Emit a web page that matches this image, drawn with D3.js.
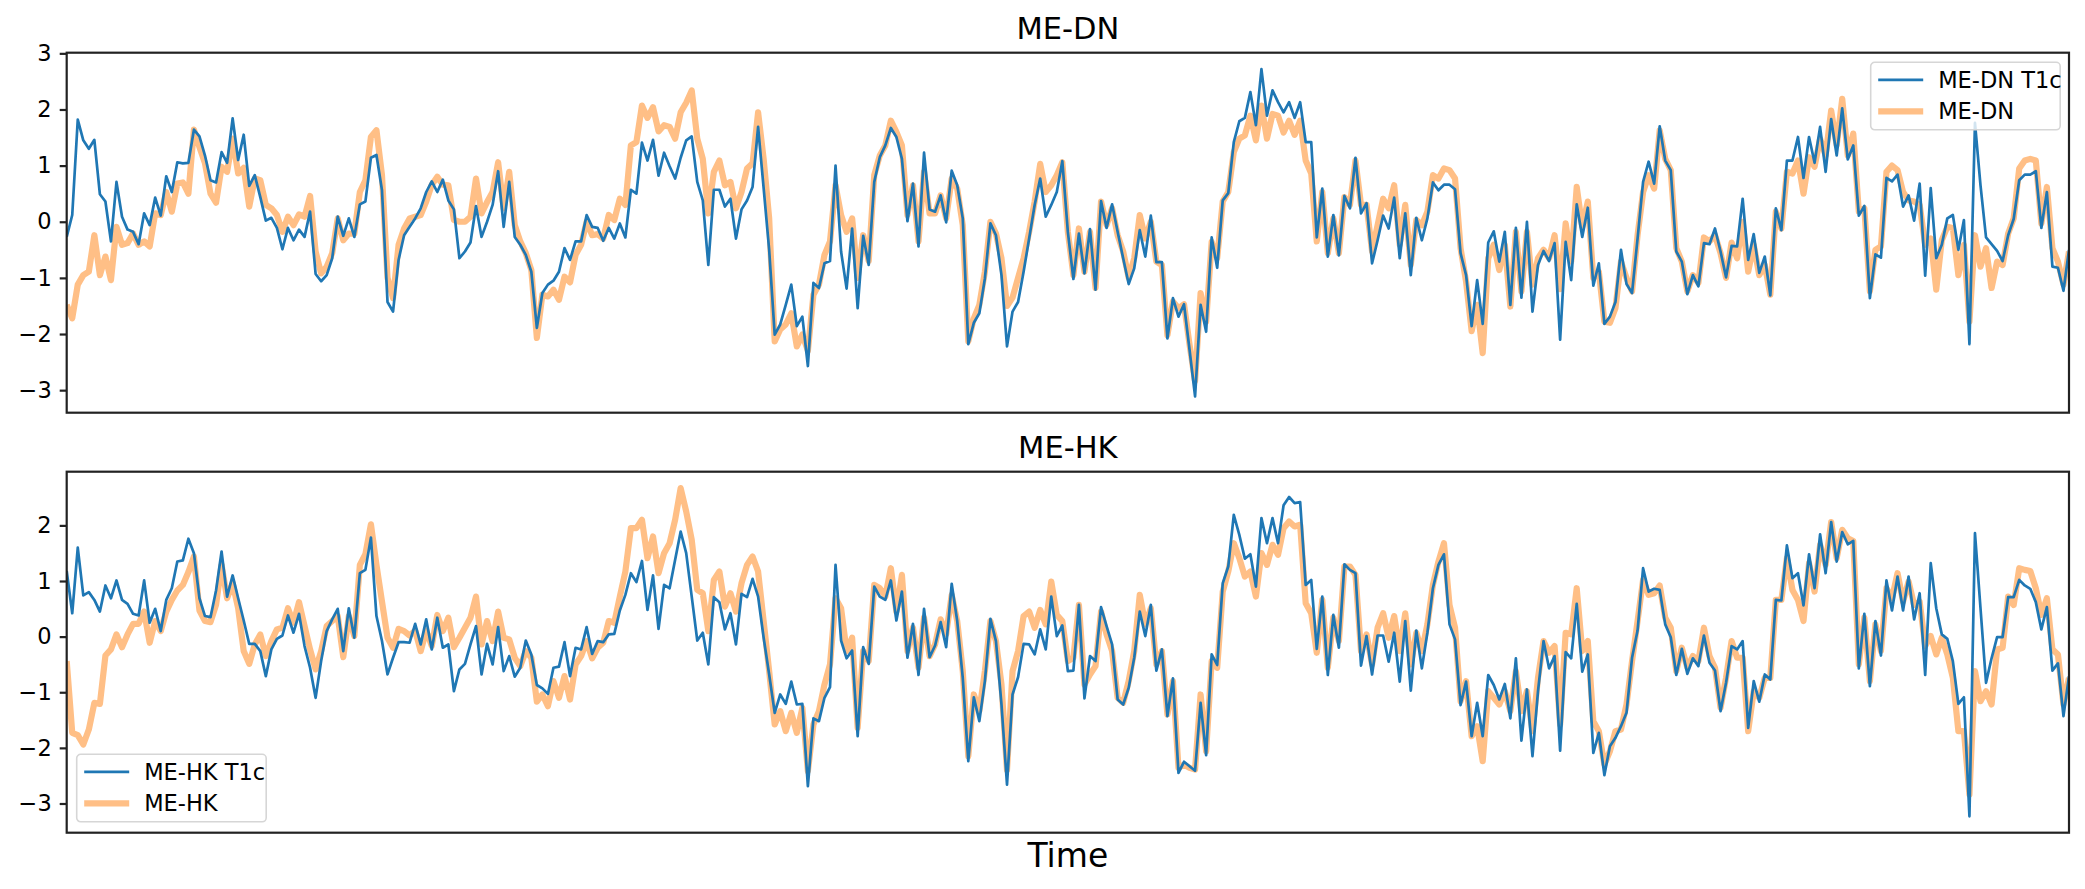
<!DOCTYPE html>
<html>
<head>
<meta charset="utf-8">
<script src="https://cdn.jsdelivr.net/npm/d3@7"></script>
<style>
  body { margin: 0; background: #fff; }
  text { font-family: "DejaVu Sans", sans-serif; }
</style>
</head>
<body>
<svg id="chart" width="2085" height="889"></svg>
<script>
// Series, un valor por paso de tiempo

var dnT1c = [
  -0.27, 0.12, 1.82, 1.45, 1.3, 1.46, 0.49, 0.36, -0.35, 0.71, 0.09, -0.14, -0.18, -0.4, 0.15, -0.06, 0.43, 0.11, 0.81, 0.53,
  1.06, 1.04, 1.05, 1.64, 1.52, 1.18, 0.74, 0.70, 1.24, 1.05, 1.84, 1.1, 1.55, 0.64, 0.83, 0.44, 0.02, 0.07, -0.11, -0.49,
  -0.11, -0.33, -0.14, -0.27, 0.18, -0.93, -1.06, -0.95, -0.65, 0.09, -0.25, 0.06, -0.27, 0.31, 0.36, 1.14, 1.19, 0.56, -1.43, -1.6,
  -0.68, -0.24, -0.09, 0.06, 0.24, 0.53, 0.72, 0.53, 0.75, 0.38, 0.22, -0.65, -0.53,
  -0.37, 0.28, -0.27, 0.0, 0.3, 0.9, -0.09, 0.71, -0.27, -0.41, -0.59, -0.89, -1.89, -1.27, -1.12, -1.05, -0.89, -0.47, -0.68,
  -0.35, -0.35, 0.12, -0.09, -0.11, -0.34, -0.11, -0.3, -0.03, -0.28, 0.57, 0.5, 1.41, 1.09, 1.46, 0.82, 1.23, 0.99, 0.77, 1.14,
  1.45, 1.52, 0.71, 0.38, -0.77, 0.57, 0.57, 0.27, 0.41, -0.3, 0.22, 0.38, 0.62, 1.69, 0.6, -0.5, -2.01, -1.83, -1.48, -1.12,
  -1.86, -1.69, -2.57, -1.09, -1.18, -0.74, -0.7, 1.0, -0.53, -1.19, -0.12, -1.54, -0.25,
  -0.77, 0.71, 1.15, 1.36, 1.67, 1.51, 1.12, 0.01, 0.68, -0.44, 1.23, 0.22, 0.18, 0.47, -0.01, 0.91, 0.65, 0.06, -2.18, -1.8,
  -1.63, -1.01, -0.03, -0.24, -0.95, -2.22, -1.6, -1.43, -0.89, -0.3, 0.3, 0.77, 0.09, 0.3, 0.53, 1.08, -0.18, -1.02, -0.21, -0.92,
  -0.13, -1.21, 0.37, -0.11, 0.31, -0.18, -0.65, -1.11, -0.83, -0.15, -0.62, 0.11, -0.72, -0.72, -2.08, -1.36, -1.69, -1.47, -2.28, -3.11,
  -1.48, -1.96, -0.28, -0.82, 0.38, 0.51, 1.42, 1.79, 1.85, 2.31, 1.72,
  2.72, 1.89, 2.34, 2.13, 1.95, 2.13, 1.85, 2.13, 1.42, 1.42, -0.28, 0.59, -0.62, 0.12, -0.6, 0.46, 0.24, 1.14, 0.15, 0.33,
  -0.74, -0.33, 0.11, -0.12, 0.43, -0.65, 0.15, -0.95, 0.07, -0.33, 0.06, 0.7, 0.56, 0.66, 0.66, 0.58, -0.56, -0.95, -1.86, -1.04,
  -1.82, -0.37, -0.17, -0.71, -0.18, -1.48, -0.11, -1.35, 0.0, -1.6, -0.77, -0.52, -0.7, -0.38, -2.1, -0.36, -1.04, 0.31, -0.27, 0.25,
  -1.14, -0.74, -1.82, -1.69, -1.43, -0.5, -1.11, -1.27, -0.3, 0.71, 1.07, 0.68, 1.7,
  1.09, 0.92, -0.53, -0.71, -1.29, -0.95, -1.15, -0.38, -0.4, -0.12, -0.53, -0.99, -0.43, -0.44, 0.41, -0.68, -0.22, -0.91, -0.62, -1.31,
  0.24, -0.15, 1.09, 1.09, 1.51, 0.78, 1.51, 1.05, 1.69, 0.89, 1.83, 1.18, 2.02, 1.11, 1.36, 0.11, 0.28, -1.36, -0.58, -0.64,
  0.78, 0.72, 0.84, 0.27, 0.47, 0.02, 0.68, -0.96, 0.6, -0.65, -0.41, 0.06, 0.12, -0.5, 0.03, -2.18, 1.76, 0.65, -0.28, -0.4,
  -0.52, -0.7, -0.24, 0.05, 0.74, 0.84, 0.84, 0.9, -0.11, 0.53, -0.8, -0.82, -1.23, -0.5
]

var dn = [
  -1.48, -1.72, -1.12, -0.95, -0.89, -0.24, -0.95, -0.62, -1.04, -0.09, -0.41, -0.38, -0.21, -0.41, -0.35, -0.44, 0.15, 0.12, 0.53, 0.18,
  0.68, 0.7, 0.5, 1.64, 1.33, 1.04, 0.5, 0.34, 0.98, 0.89, 1.48, 0.86, 0.96, 0.27, 0.77, 0.74, 0.3, 0.24, 0.12, -0.18,
  0.09, -0.06, 0.13, 0.09, 0.46, -0.53, -0.92, -0.8, -0.56, 0.06, -0.33, -0.21, -0.21, 0.53, 0.74, 1.51, 1.63, 0.83, -1.0, -1.36,
  -0.41, -0.12, 0.06, 0.09, 0.12, 0.36, 0.66, 0.8, 0.66, 0.65, 0.03, 0.0, 0.0,
  0.09, 0.77, 0.15, 0.35, 0.53, 1.06, 0.24, 0.89, -0.06, -0.35, -0.56, -0.86, -2.07, -1.3, -1.33, -1.21, -1.39, -0.98, -1.08,
  -0.59, -0.41, 0.0, -0.24, -0.22, -0.3, 0.12, 0.03, 0.41, 0.3, 1.36, 1.42, 2.07, 1.85, 2.04, 1.61, 1.72, 1.69, 1.48, 1.95,
  2.12, 2.34, 1.48, 1.12, 0.15, 0.89, 1.09, 0.65, 0.71, 0.24, 0.53, 0.95, 1.04, 1.95, 1.12, 0.06, -2.13, -1.92, -1.83, -1.63,
  -2.22, -2.01, -2.3, -1.3, -1.12, -0.59, -0.35, 0.65, 0.12, -0.18, 0.06, -1.0, -0.24,
  -0.7, 0.83, 1.18, 1.36, 1.8, 1.6, 1.36, 0.12, 0.65, -0.35, 0.89, 0.15, 0.15, 0.47, 0.06, 0.77, 0.59, -0.06, -2.13, -1.72,
  -1.48, -0.89, 0.0, -0.21, -0.65, -1.5, -1.35, -1.0, -0.65, -0.18, 0.36, 1.03, 0.53, 0.65, 0.83, 1.06, -0.18, -0.95, -0.12, -0.89,
  -0.18, -1.18, 0.36, -0.06, 0.24, -0.24, -0.53, -1.0, -0.65, 0.12, -0.3, 0.0, -0.71, -0.77, -2.02, -1.42, -1.54, -1.47, -2.19, -2.84,
  -1.27, -1.78, -0.36, -0.65, 0.36, 0.53, 1.24, 1.48, 1.54, 1.89, 1.45,
  2.07, 1.48, 1.92, 1.89, 1.59, 1.8, 1.55, 1.8, 1.09, 0.86, -0.35, 0.53, -0.56, 0.06, -0.56, 0.44, 0.3, 1.09, 0.3, 0.3,
  -0.53, -0.06, 0.41, 0.24, 0.65, -0.41, 0.3, -0.77, 0.03, -0.06, 0.18, 0.83, 0.77, 0.95, 0.92, 0.77, -0.47, -1.07, -1.95, -1.48,
  -2.34, -0.65, -0.41, -0.86, -0.41, -1.51, -0.18, -1.24, -0.18, -1.12, -0.65, -0.5, -0.65, -0.24, -1.2, -0.03, -0.71, 0.62, -0.09, 0.36,
  -1.0, -0.89, -1.78, -1.8, -1.54, -0.71, -1.0, -1.24, -0.24, 0.53, 0.83, 0.59, 1.63,
  1.12, 0.92, -0.47, -0.71, -1.24, -0.95, -1.09, -0.28, -0.35, -0.24, -0.56, -1.0, -0.37, -0.65, 0.0, -0.89, -0.41, -0.95, -0.77, -1.3,
  0.18, -0.12, 0.89, 0.86, 1.09, 0.5, 1.15, 0.98, 1.48, 1.18, 1.98, 1.36, 2.19, 1.18, 1.57, 0.18, 0.24, -1.24, -0.5, -0.44,
  0.89, 1.0, 0.92, 0.53, 0.38, 0.36, 0.3, -0.41, -0.3, -1.21, -0.33, -0.09, -0.11, -0.95, -0.41, -1.78, -0.24, -0.8, -0.47, -1.18,
  -0.71, -0.77, -0.21, 0.06, 0.95, 1.09, 1.12, 1.09, -0.03, 0.62, -0.47, -0.71, -1.12, -0.53
]

var hkT1c = [
  1.18, 0.42, 1.6, 0.74, 0.8, 0.66, 0.45, 0.92, 0.69, 1.01, 0.66, 0.59, 0.41, 0.38, 1.01, 0.25, 0.5, 0.1, 0.66, 0.87,
  1.35, 1.37, 1.76, 1.5, 0.69, 0.37, 0.35, 0.83, 1.53, 0.72, 1.1, 0.69, 0.29, -0.13, -0.13, -0.26, -0.71, -0.23, -0.04, 0.02,
  0.38, 0.07, 0.41, -0.17, -0.56, -1.1, -0.44, 0.1, 0.31, 0.5, -0.26, 0.51, -0.02, 1.14, 1.2, 1.78, 0.37, -0.08, -0.68, -0.38,
  -0.1, -0.1, -0.11, 0.23, -0.14, 0.31, -0.23, 0.34, -0.2, -0.14, -0.98, -0.59, -0.49,
  -0.14, 0.19, -0.68, -0.13, -0.5, 0.17, -0.62, -0.35, -0.72, -0.56, -0.07, -0.32, -0.87, -0.93, -1.03, -0.56, -0.54, -0.1, -0.71,
  -0.2, -0.23, 0.17, -0.31, -0.08, -0.1, 0.04, 0.05, 0.47, 0.75, 1.14, 0.98, 1.36, 0.48, 1.1, 0.14, 0.93, 0.87, 1.38, 1.89,
  1.5, 0.72, -0.07, 0.07, -0.5, 0.71, 0.62, 0.13, 0.42, -0.14, 0.77, 0.71, 1.04, 0.72, -0.02, -0.68, -1.37, -1.04, -1.21, -0.81,
  -1.22, -1.21, -2.69, -1.47, -1.52, -1.1, -0.91, 1.29, -0.07, -0.39, -0.25, -1.79, -0.19,
  -0.49, 0.9, 0.72, 0.66, 1.01, 0.29, 0.81, -0.38, 0.23, -0.69, 0.5, -0.37, -0.16, 0.26, -0.19, 0.95, 0.28, -0.74, -2.24, -1.09,
  -1.52, -0.8, 0.32, -0.08, -1.22, -2.66, -1.04, -0.73, -0.13, -0.14, -0.32, 0.13, -0.23, 0.72, 0.01, 0.2, -0.62, -0.61, 0.57, -1.11,
  -0.35, -0.44, 0.53, 0.19, -0.14, -1.13, -1.22, -0.92, -0.38, 0.45, 0.01, 0.57, -0.61, -0.23, -1.43, -0.75, -2.45, -2.25, -2.33, -2.41,
  -1.19, -2.13, -0.32, -0.51, 0.96, 1.26, 2.19, 1.83, 1.4, 1.48, 0.9,
  2.13, 1.68, 2.13, 1.68, 2.36, 2.51, 2.4, 2.42, 0.93, 1.02, -0.22, 0.72, -0.69, 0.39, -0.2, 1.3, 1.2, 1.14, -0.52, 0.01,
  -0.68, 0.02, 0.02, -0.45, 0.07, -0.81, 0.28, -0.97, 0.11, -0.57, 0.07, 0.87, 1.29, 1.48, 0.22, -0.05, -1.23, -0.81, -1.79, -1.19,
  -1.79, -0.69, -0.87, -1.13, -0.85, -1.47, -0.39, -1.87, -0.95, -2.15, -0.98, -0.08, -0.57, -0.35, -2.05, -0.28, -0.39, 0.59, -0.63, -0.32,
  -2.09, -1.73, -2.49, -1.97, -1.82, -1.61, -1.37, -0.38, 0.11, 1.23, 0.81, 0.86, 0.84,
  0.22, -0.01, -0.69, -0.22, -0.67, -0.39, -0.53, 0.02, -0.47, -0.61, -1.34, -0.83, -0.17, -0.23, -0.08, -1.64, -0.8, -1.17, -0.68, -0.77,
  0.66, 0.65, 1.64, 1.05, 1.14, 0.56, 1.48, 0.87, 1.84, 1.14, 2.06, 1.35, 1.88, 1.66, 1.72, -0.57, 0.41, -0.89, 0.28, -0.34,
  1.01, 0.47, 1.08, 0.47, 1.08, 0.31, 0.78, -0.69, 1.32, 0.51, 0.04, -0.04, -0.44, -1.21, -1.09, -3.23, 1.86, 0.51, -0.83, -0.39,
  -0.01, -0.01, 0.71, 0.71, 1.02, 0.92, 0.86, 0.62, 0.13, 0.53, -0.61, -0.48, -1.43, -0.71
]

var hk = [
  -0.44, -1.73, -1.77, -1.94, -1.67, -1.19, -1.21, -0.34, -0.23, 0.04, -0.19, 0.04, 0.23, 0.23, 0.45, -0.11, 0.28, 0.1, 0.45, 0.66,
  0.83, 0.93, 1.16, 1.44, 0.47, 0.28, 0.26, 0.57, 1.29, 0.69, 0.96, 0.51, -0.26, -0.49, -0.14, 0.04, -0.35, -0.08, 0.13, 0.16,
  0.51, 0.25, 0.62, 0.19, -0.23, -0.59, -0.26, 0.19, 0.28, 0.37, -0.37, 0.37, 0.01, 1.29, 1.48, 2.02, 1.29, 0.63, -0.02, -0.2,
  0.14, 0.1, 0.02, 0.11, -0.26, 0.11, -0.17, 0.39, 0.1, 0.34, -0.19, -0.02, 0.16,
  0.34, 0.72, -0.14, 0.28, -0.08, 0.45, -0.02, -0.05, -0.38, -0.53, -0.26, -0.38, -1.17, -1.04, -1.25, -0.8, -1.1, -0.71, -1.13,
  -0.5, -0.35, -0.08, -0.39, -0.2, -0.11, 0.28, 0.25, 0.72, 1.17, 1.95, 1.95, 2.1, 1.41, 1.8, 1.14, 1.5, 1.68, 2.1, 2.67,
  2.25, 1.74, 0.84, 0.78, 0.1, 1.02, 1.17, 0.54, 0.78, 0.45, 0.96, 1.29, 1.44, 1.17, 0.28, -0.62, -1.58, -1.34, -1.7, -1.37,
  -1.73, -1.28, -2.42, -1.58, -1.34, -0.86, -0.5, 0.69, 0.51, -0.26, -0.02, -1.64, -0.26,
  -0.44, 0.93, 0.87, 0.72, 1.23, 0.45, 1.11, -0.26, 0.16, -0.56, 0.34, -0.35, -0.14, 0.31, 0.04, 0.75, 0.28, -0.62, -2.15, -1.04,
  -1.34, -0.62, 0.28, -0.08, -0.86, -2.4, -0.62, -0.26, 0.37, 0.45, 0.16, 0.48, 0.22, 0.99, 0.39, 0.28, -0.44, -0.38, 0.57, -0.86,
  -0.68, -0.53, 0.45, 0.04, -0.26, -1.1, -1.19, -0.8, -0.26, 0.75, 0.22, 0.51, -0.5, -0.26, -1.4, -0.8, -2.36, -2.3, -2.36, -2.39,
  -1.04, -2.06, -0.44, -0.56, 0.81, 1.17, 1.68, 1.41, 1.08, 1.17, 0.72,
  1.5, 1.29, 1.65, 1.47, 1.95, 2.07, 1.98, 2.01, 0.6, 0.42, -0.29, 0.66, -0.56, 0.34, -0.08, 1.26, 1.26, 1.11, -0.26, 0.04,
  -0.5, 0.16, 0.42, -0.02, 0.37, -0.26, 0.42, -0.5, 0.07, -0.26, 0.22, 0.93, 1.35, 1.68, 0.57, 0.16, -1.16, -0.8, -1.79, -1.61,
  -2.24, -0.98, -1.1, -1.22, -0.98, -1.34, -0.62, -1.34, -0.98, -1.7, -0.74, -0.08, -0.29, -0.17, -1.58, 0.07, 0.04, 0.87, -0.26, -0.08,
  -1.52, -1.7, -2.3, -2.06, -1.7, -1.67, -1.22, -0.44, 0.28, 1.02, 0.75, 0.78, 0.92,
  0.34, 0.16, -0.62, -0.2, -0.56, -0.35, -0.44, 0.16, -0.35, -0.56, -1.28, -0.74, -0.08, -0.38, -0.38, -1.7, -0.98, -1.1, -0.74, -0.74,
  0.66, 0.66, 1.41, 0.84, 0.66, 0.28, 1.32, 0.81, 1.65, 1.29, 2.06, 1.41, 1.92, 1.77, 1.72, -0.5, 0.34, -0.8, 0.22, -0.26,
  0.87, 0.69, 1.14, 0.63, 0.99, 0.57, 0.63, -0.17, 0.01, -0.32, -0.02, -0.32, -0.74, -1.7, -1.7, -2.84, -0.62, -1.16, -0.98, -1.22,
  -0.23, -0.2, 0.72, 0.57, 1.23, 1.2, 1.18, 0.87, 0.39, 0.69, -0.23, -0.32, -1.22, -0.74
]

var dnTicks = [-3, -2, -1, 0, 1, 2, 3]
var hkTicks = [-3, -2, -1, 0, 1, 2]

var azul = "#1f77b4"
var naranja = "#ffbf86"

var width = 2085
var height = 889
var margin = { left: 66.7, right: 16 }

var svg = d3.select("#chart")
svg.append("rect").attr("width", width).attr("height", height).attr("fill", "#fff")

var paneles = [
  { titulo: "ME-DN", t1c: dnT1c, real: dn, ticks: dnTicks, top: 52.7, bottom: 412.7, nombres: ["ME-DN T1c", "ME-DN"], leyenda: "derecha" },
  { titulo: "ME-HK", t1c: hkT1c, real: hk, ticks: hkTicks, top: 471.7, bottom: 832.7, nombres: ["ME-HK T1c", "ME-HK"], leyenda: "izquierda" }
]

var escalaX = d3.scaleLinear()
  .domain([0, dnT1c.length - 1])
  .range([margin.left, width - margin.right])

paneles.forEach(function (p, k) {
  // dominio Y como matplotlib: extremos de los datos + 5%
  var ext = d3.extent(p.t1c.concat(p.real))
  var pad = (ext[1] - ext[0]) * 0.05
  var escalaY = d3.scaleLinear()
    .domain([ext[0] - pad, ext[1] + pad])
    .range([p.bottom, p.top])

  var linea = d3.line()
    .x(function (d, i) { return escalaX(i) })
    .y(function (d) { return escalaY(d) })

  svg.append("clipPath").attr("id", "clip" + k)
    .append("rect")
    .attr("x", margin.left).attr("y", p.top)
    .attr("width", width - margin.right - margin.left)
    .attr("height", p.bottom - p.top)

  var g = svg.append("g").attr("clip-path", "url(#clip" + k + ")")

  g.append("path")
    .datum(p.real)
    .attr("d", linea)
    .attr("fill", "none")
    .attr("stroke", naranja)
    .attr("stroke-width", 6.2)
    .attr("stroke-linejoin", "round")

  g.append("path")
    .datum(p.t1c)
    .attr("d", linea)
    .attr("fill", "none")
    .attr("stroke", azul)
    .attr("stroke-width", 2.7)
    .attr("stroke-linejoin", "round")

  // eje Y
  var ejeY = d3.axisLeft(escalaY)
    .tickValues(p.ticks)
    .tickFormat(d3.format("d"))
    .tickSize(7)
    .tickPadding(8)

  var gy = svg.append("g")
    .attr("transform", "translate(" + margin.left + ",0)")
    .call(ejeY)
  gy.select(".domain").remove()
  gy.selectAll(".tick line").attr("stroke", "#222").attr("stroke-width", 2.2)
  gy.selectAll(".tick text")
    .attr("font-family", "DejaVu Sans")
    .attr("font-size", 22.5)
    .attr("fill", "#000")

  // marco
  svg.append("rect")
    .attr("x", margin.left).attr("y", p.top)
    .attr("width", width - margin.right - margin.left)
    .attr("height", p.bottom - p.top)
    .attr("fill", "none")
    .attr("stroke", "#222")
    .attr("stroke-width", 2.2)

  // titulo
  svg.append("text")
    .attr("x", (margin.left + width - margin.right) / 2)
    .attr("y", p.top - 14)
    .attr("text-anchor", "middle")
    .attr("font-size", 30.5)
    .attr("fill", "#000")
    .text(p.titulo)

  // leyenda
  var lx = p.leyenda === "derecha" ? 1870.7 : 76.7
  var ly = p.leyenda === "derecha" ? 62.3 : 754.3
  var ley = svg.append("g").attr("transform", "translate(" + lx + "," + ly + ")")
  ley.append("rect")
    .attr("width", 189.5).attr("height", 67.5)
    .attr("rx", 4)
    .attr("fill", "#fff").attr("fill-opacity", 0.8)
    .attr("stroke", "#d6d6d6").attr("stroke-width", 1.6)
  var colores = [azul, naranja]
  var grosor = [2.7, 6.2]
  p.nombres.forEach(function (n, j) {
    var yy = 17.5 + j * 31.5
    ley.append("line")
      .attr("x1", 7.5).attr("x2", 52.5)
      .attr("y1", yy).attr("y2", yy)
      .attr("stroke", colores[j]).attr("stroke-width", grosor[j])
    ley.append("text")
      .attr("x", 67.5).attr("y", yy)
      .attr("dy", "0.36em")
      .attr("font-size", 22.5)
      .attr("fill", "#000")
      .text(n)
  })
})

// etiqueta del eje X
svg.append("text")
  .attr("x", (margin.left + width - margin.right) / 2)
  .attr("y", 867)
  .attr("text-anchor", "middle")
  .attr("font-size", 33)
  .attr("fill", "#000")
  .text("Time")
</script>
</body>
</html>
